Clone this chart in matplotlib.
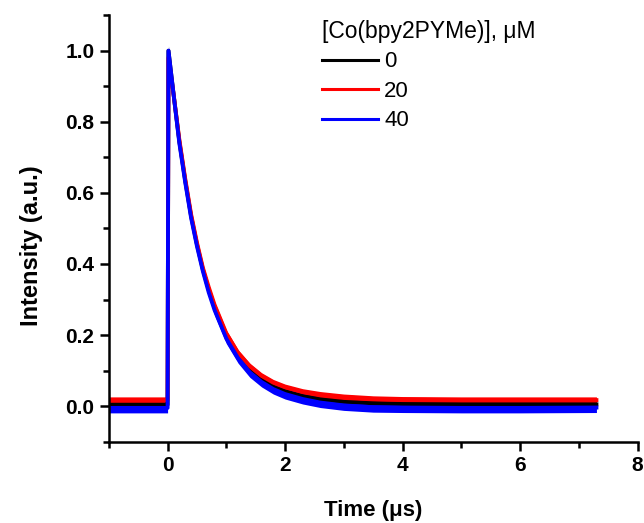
import numpy as np
import matplotlib
matplotlib.use("Agg")
import matplotlib.pyplot as plt

plt.rcParams['font.family'] = ['Liberation Sans', 'DejaVu Sans']

# Time axis (µs) and traces
time_us = [-1.0, -0.5, -0.02, 0.0, 0.015, 0.1, 0.2, 0.3, 0.4, 0.5, 0.6, 0.7, 0.8,
           0.9, 1.0, 1.2, 1.4, 1.6, 1.8, 2.0, 2.3, 2.6, 3.0, 3.5, 4.0, 5.0, 6.0, 7.3]

conc_0 = [0.004, 0.004, 0.004, 0.004, 1.0, 0.88, 0.745, 0.635, 0.535, 0.455, 0.385,
          0.327, 0.277, 0.237, 0.197, 0.142, 0.102, 0.075, 0.055, 0.042, 0.028, 0.019,
          0.012, 0.008, 0.006, 0.005, 0.005, 0.005]
conc_20 = [0.017, 0.017, 0.017, 0.017, 0.98, 0.88, 0.75, 0.64, 0.54, 0.46, 0.39,
           0.335, 0.285, 0.245, 0.205, 0.15, 0.112, 0.085, 0.066, 0.053, 0.04, 0.032,
           0.025, 0.02, 0.018, 0.017, 0.017, 0.017]
conc_40 = [-0.005, -0.005, -0.005, -0.005, 1.0, 0.88, 0.74, 0.63, 0.53, 0.45, 0.38,
           0.32, 0.27, 0.23, 0.19, 0.135, 0.095, 0.068, 0.048, 0.034, 0.02, 0.01,
           0.002, -0.003, -0.004, -0.005, -0.005, -0.004]

# approximate half-width of the noise band of each trace
noise_0 = 0.008
noise_20 = 0.009
noise_40 = 0.014

labels = ['0', '20', '40']
colors = ['black', 'red', 'blue']

fig = plt.figure(figsize=(6.44, 5.23), dpi=100)
ax = fig.add_axes([0.169, 0.1555, 0.821, 0.8155])

t = np.array(time_us)
for y, nz, lab, c in zip([conc_0, conc_20, conc_40], [noise_0, noise_20, noise_40], labels, colors):
    y = np.array(y)
    ax.fill_between(t, y - nz, y + nz, color=c, lw=0)
    ax.plot(t, y, color=c, lw=2.8, label=lab, solid_joinstyle='round')

ax.set_xlim(-1, 8)
ax.set_ylim(-0.1, 1.1)
ax.set_xticks([0, 2, 4, 6, 8])
ax.set_xticks([-1, 1, 3, 5, 7], minor=True)
ax.set_yticks([0.0, 0.2, 0.4, 0.6, 0.8, 1.0])
ax.set_yticks([-0.1, 0.1, 0.3, 0.5, 0.7, 0.9, 1.1], minor=True)
ax.set_yticklabels(['0.0', '0.2', '0.4', '0.6', '0.8', '1.0'])

for s in ['top', 'right']:
    ax.spines[s].set_visible(False)
for s in ['left', 'bottom']:
    ax.spines[s].set_linewidth(1.8)
ax.tick_params(which='major', length=6.5, width=1.8, labelsize=15, pad=4)
ax.tick_params(which='minor', length=4, width=1.8)
for lab in ax.get_xticklabels() + ax.get_yticklabels():
    lab.set_fontweight('bold')

ax.set_xlabel('Time (\u03bcs)', fontsize=16, fontweight='bold', labelpad=18)
ax.set_ylabel('Intensity (a.u.)', fontsize=17, fontweight='bold', labelpad=16)
ax.yaxis.label.set_y(0.46)

leg = ax.legend(title='[Co(bpy2PYMe)], \u03bcM', loc='upper left',
                bbox_to_anchor=(322 / 644, 1 - 20 / 523), bbox_transform=fig.transFigure,
                frameon=False, fontsize=16, title_fontsize=16.5, handlelength=2.5,
                handletextpad=0.3, labelspacing=0.38, borderaxespad=0, borderpad=0,
                alignment='left')
for h in leg.legend_handles:
    h.set_linewidth(2.2)

fig.savefig('out.png', dpi=100)
